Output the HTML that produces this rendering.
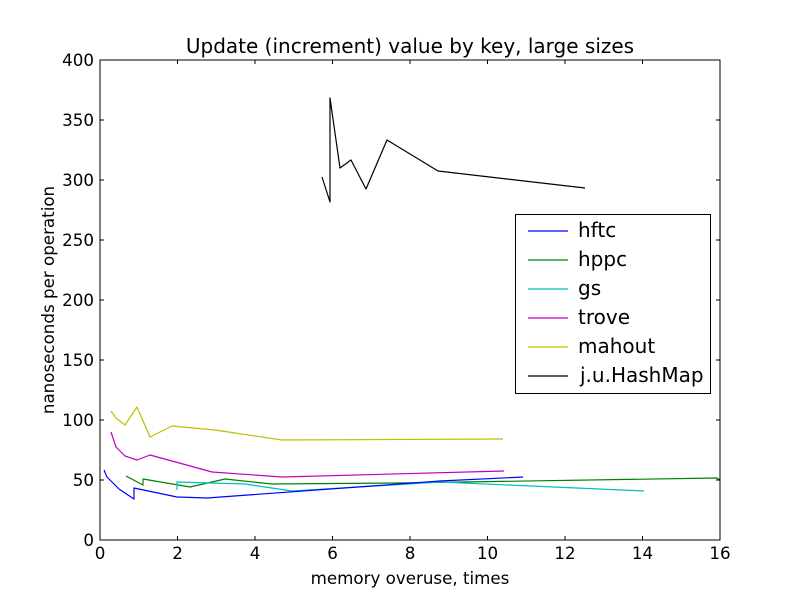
<!DOCTYPE html>
<html><head><style>
body{margin:0;background:#fff}
svg text{font-family:"DejaVu Sans","Liberation Sans",sans-serif;fill:#000}
</style></head><body>
<svg width="800" height="600" viewBox="0 0 800 600" xmlns="http://www.w3.org/2000/svg">
<rect width="800" height="600" fill="#fff"/>
<g fill="none" stroke-width="1.2" stroke-linejoin="round">
<polyline stroke="#bfbf00" points="111,411 116,418 125,425 137,407 150,437 172,426 215,430 282,440 503,439"/>
<polyline stroke="#bf00bf" points="111,432 116,447 125,456 137,460 150,455 172,461 212,472 282,477 504,471"/>
<polyline stroke="#008000" points="126,476 143,485 143,479 190,487 225,479 272,484 400,483 717,478 720,480"/>
<polyline stroke="#00bfbf" points="177,490 177,482 245,484 292,491 440,482 644,491"/>
<polyline stroke="#0000ff" points="104,470 107,477 119,489 134,499 134,488 177,497 207,498 440,481 523,477"/>
<polyline stroke="#000" points="322,177 330,202 330,98 340,168 351,160 366,189 387,140 438,171 585,188"/>
</g>
<rect x="100" y="60" width="620" height="480" fill="none" stroke="#000" stroke-width="1"/>
<g stroke="#000" stroke-width="1">
<path d="M100,540v-4M177.5,540v-4M255,540v-4M332.5,540v-4M410,540v-4M487.5,540v-4M565,540v-4M642.5,540v-4M720,540v-4"/>
<path d="M100,60v4M177.5,60v4M255,60v4M332.5,60v4M410,60v4M487.5,60v4M565,60v4M642.5,60v4M720,60v4"/>
<path d="M100,540h4M100,480h4M100,420h4M100,360h4M100,300h4M100,240h4M100,180h4M100,120h4M100,60h4"/>
<path d="M720,540h-4M720,480h-4M720,420h-4M720,360h-4M720,300h-4M720,240h-4M720,180h-4M720,120h-4M720,60h-4"/>
</g>
<g font-size="16.7" text-anchor="middle">
<text x="100" y="559">0</text><text x="177.5" y="559">2</text><text x="255" y="559">4</text><text x="332.5" y="559">6</text><text x="410" y="559">8</text><text x="487.5" y="559">10</text><text x="565" y="559">12</text><text x="642.5" y="559">14</text><text x="720" y="559">16</text>
</g>
<g font-size="16.7" text-anchor="end">
<text x="94" y="546">0</text><text x="94" y="486">50</text><text x="94" y="426">100</text><text x="94" y="366">150</text><text x="94" y="306">200</text><text x="94" y="246">250</text><text x="94" y="186">300</text><text x="94" y="126">350</text><text x="94" y="66">400</text>
</g>
<text x="410" y="53" font-size="20" text-anchor="middle">Update (increment) value by key, large sizes</text>
<text x="410" y="584" font-size="16.7" text-anchor="middle">memory overuse, times</text>
<text transform="translate(54,300) rotate(-90)" font-size="16.7" text-anchor="middle">nanoseconds per operation</text>
<rect x="515.5" y="214.5" width="195" height="179" fill="#fff" stroke="#000"/>
<g stroke-width="1.2">
<line x1="528" x2="568" y1="231" y2="231" stroke="#0000ff"/>
<line x1="528" x2="568" y1="260" y2="260" stroke="#008000"/>
<line x1="528" x2="568" y1="289" y2="289" stroke="#00bfbf"/>
<line x1="528" x2="568" y1="318" y2="318" stroke="#bf00bf"/>
<line x1="528" x2="568" y1="347" y2="347" stroke="#bfbf00"/>
<line x1="528" x2="568" y1="376" y2="376" stroke="#000"/>
</g>
<g font-size="20">
<text x="578" y="237">hftc</text><text x="578" y="266">hppc</text><text x="578" y="295">gs</text><text x="578" y="324">trove</text><text x="578" y="353">mahout</text><text x="580" y="382">j.u.HashMap</text>
</g>
</svg>
</body></html>
